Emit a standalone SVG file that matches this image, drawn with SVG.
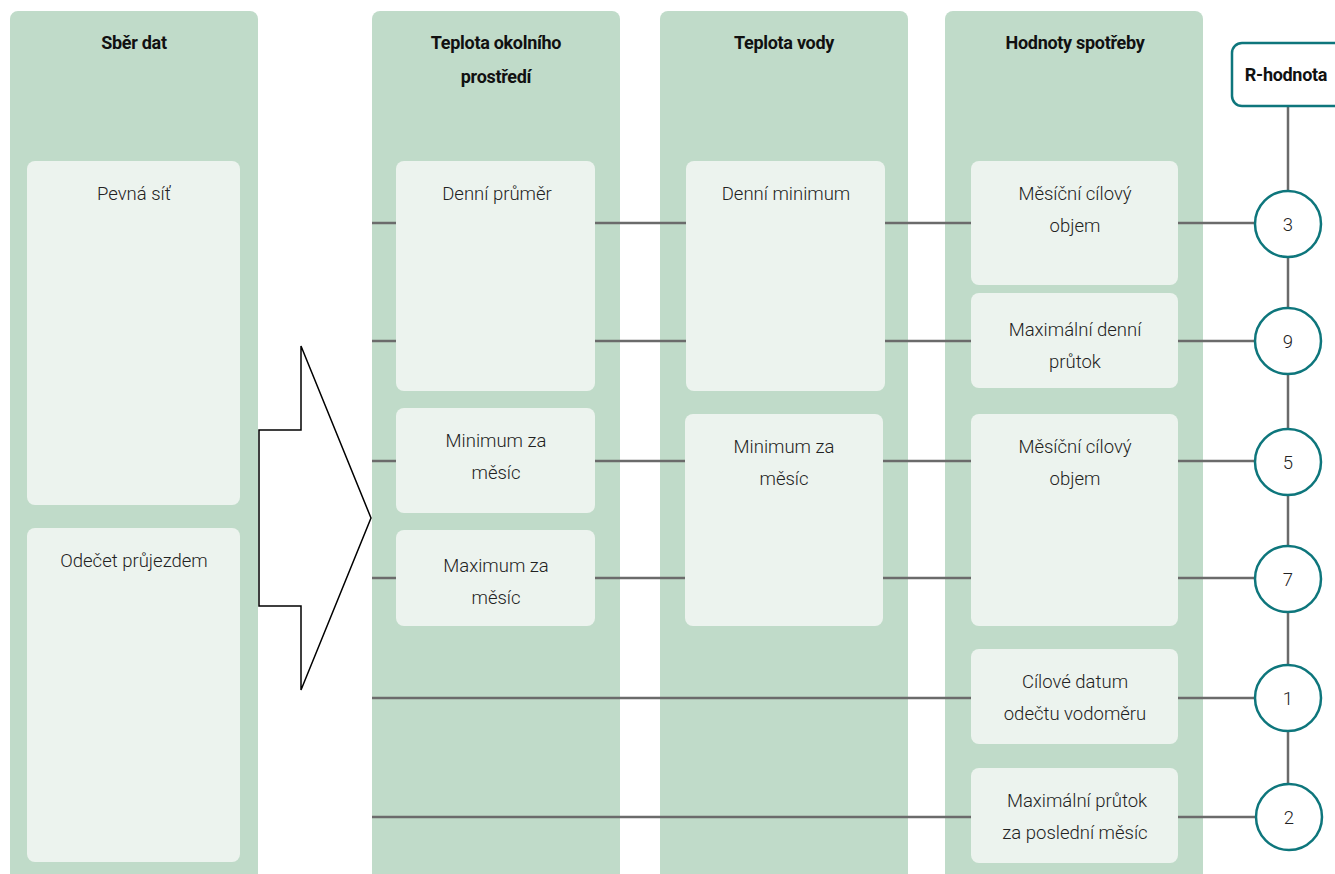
<svg xmlns="http://www.w3.org/2000/svg" width="1335" height="874" viewBox="0 0 1335 874">
<style>
.col{fill:#c0dbc9}
.box{fill:#ecf3ee}
.t{font-family:Roboto,"Liberation Sans",sans-serif;font-weight:bold;font-size:18px;fill:#111;text-anchor:middle;letter-spacing:-0.3px}
.b{font-family:Roboto,"Liberation Sans",sans-serif;font-weight:300;font-size:18.5px;fill:#222;text-anchor:middle}
.ln{stroke:#6b6b6b;stroke-width:2.5;fill:none}
.cir{fill:#fff;stroke:#0e767c;stroke-width:2.5}
</style>
<rect width="1335" height="874" fill="#fff"/>
<g id="col-sber">
<rect class="col" x="10" y="11" width="248" height="880" rx="8"/>
<text class="t" x="134" y="49">Sběr dat</text>
</g>
<g id="col-okoli">
<rect class="col" x="372" y="11" width="248" height="880" rx="8"/>
<text class="t" x="496" y="49">Teplota okolního</text>
<text class="t" x="496" y="83">prostředí</text>
</g>
<g id="col-voda">
<rect class="col" x="660" y="11" width="248" height="880" rx="8"/>
<text class="t" x="784" y="49">Teplota vody</text>
</g>
<g id="col-spotreba">
<rect class="col" x="945" y="11" width="258" height="880" rx="8"/>
<text class="t" x="1075" y="49">Hodnoty spotřeby</text>
</g>
<g id="connectors">
<path class="ln" d="M372 223H396M595 223H686M885 223H971M1178 223H1256"/>
<path class="ln" d="M372 341H396M595 341H686M885 341H971M1178 341H1256"/>
<path class="ln" d="M372 461H396M595 461H685M883 461H971M1178 461H1256"/>
<path class="ln" d="M372 578H396M595 578H685M883 578H971M1178 578H1256"/>
<path class="ln" d="M372 698H971M1178 698H1256"/>
<path class="ln" d="M372 817H971M1178 817H1256"/>
<path class="ln" d="M1288 106V817"/>
</g>
<g id="r-hodnota">
<rect x="1232" y="43" width="120" height="63" rx="10" fill="#fff" stroke="#0e767c" stroke-width="2.5"/>
<text class="t" x="1286" y="81">R-hodnota</text>
</g>
<g id="pevna-sit"><rect class="box" x="27" y="161" width="213" height="344" rx="8"/><text class="b" x="134" y="200">Pevná síť</text></g>
<g id="odecet"><rect class="box" x="27" y="528" width="213" height="334" rx="8"/><text class="b" x="134" y="567">Odečet průjezdem</text></g>
<g id="arrow"><polygon points="301,346 371,518 301,690 301,606 259,606 259,430 301,430" fill="#fff" stroke="#000" stroke-width="1.5"/></g>
<g id="denni-prumer"><rect class="box" x="396" y="161" width="199" height="230" rx="8"/><text class="b" x="497" y="200">Denní průměr</text></g>
<g id="min-mesic-1"><rect class="box" x="396" y="408" width="199" height="105" rx="8"/><text class="b" x="496" y="447">Minimum za</text><text class="b" x="496" y="479">měsíc</text></g>
<g id="max-mesic"><rect class="box" x="396" y="530" width="199" height="96" rx="8"/><text class="b" x="496" y="572">Maximum za</text><text class="b" x="496" y="604">měsíc</text></g>
<g id="denni-minimum"><rect class="box" x="686" y="161" width="199" height="230" rx="8"/><text class="b" x="786" y="200">Denní minimum</text></g>
<g id="min-mesic-2"><rect class="box" x="685" y="414" width="198" height="212" rx="8"/><text class="b" x="784" y="453">Minimum za</text><text class="b" x="784" y="485">měsíc</text></g>
<g id="mesicni-objem-1"><rect class="box" x="971" y="161" width="207" height="124" rx="8"/><text class="b" x="1075" y="200">Měsíční cílový</text><text class="b" x="1075" y="232">objem</text></g>
<g id="max-denni"><rect class="box" x="971" y="293" width="207" height="95" rx="8"/><text class="b" x="1075" y="336">Maximální denní</text><text class="b" x="1075" y="368">průtok</text></g>
<g id="mesicni-objem-2"><rect class="box" x="971" y="414" width="207" height="212" rx="8"/><text class="b" x="1075" y="453">Měsíční cílový</text><text class="b" x="1075" y="485">objem</text></g>
<g id="cilove-datum"><rect class="box" x="971" y="649" width="207" height="95" rx="8"/><text class="b" x="1075" y="688">Cílové datum</text><text class="b" x="1075" y="720">odečtu vodoměru</text></g>
<g id="max-prutok"><rect class="box" x="971" y="768" width="207" height="95" rx="8"/><text class="b" x="1077" y="807">Maximální průtok</text><text class="b" x="1075" y="839">za poslední měsíc</text></g>
<g id="c3"><circle class="cir" cx="1288" cy="224" r="33"/><text class="b" x="1288" y="231">3</text></g>
<g id="c9"><circle class="cir" cx="1288" cy="341" r="33"/><text class="b" x="1288" y="348">9</text></g>
<g id="c5"><circle class="cir" cx="1288" cy="462" r="33"/><text class="b" x="1288" y="469">5</text></g>
<g id="c7"><circle class="cir" cx="1288" cy="579" r="33"/><text class="b" x="1288" y="586">7</text></g>
<g id="c1"><circle class="cir" cx="1288" cy="698" r="33"/><text class="b" x="1288" y="705">1</text></g>
<g id="c2"><circle class="cir" cx="1289" cy="817" r="33"/><text class="b" x="1289" y="824">2</text></g>
</svg>
